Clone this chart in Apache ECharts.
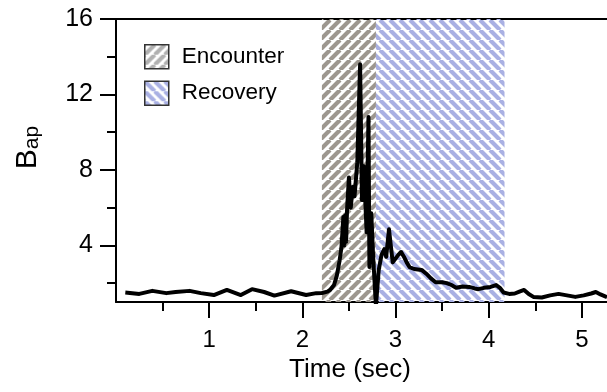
<!DOCTYPE html>
<html>
<head>
<meta charset="utf-8">
<script src="https://cdn.jsdelivr.net/npm/echarts@6/dist/echarts.min.js"></script>
<style>
html,body{margin:0;padding:0;background:#fff;}
#chart{width:607px;height:392px;}
</style>
</head>
<body>
<div id="chart"></div>
<script>
// ---- data ----
const timeSec = [0.10,0.25,0.39,0.54,0.64,0.79,0.91,1.05,1.19,1.34,1.46,1.59,1.70,1.88,2.04,2.15,2.21,2.27,2.30,2.34,2.37,2.40,2.42,2.44,2.45,2.46,2.47,2.48,2.50,2.52,2.54,2.56,2.59,2.62,2.64,2.66,2.69,2.71,2.72,2.74,2.76,2.79,2.82,2.85,2.88,2.90,2.93,2.97,2.99,3.03,3.06,3.09,3.12,3.15,3.20,3.28,3.33,3.38,3.43,3.50,3.55,3.60,3.65,3.72,3.79,3.85,3.89,3.95,4.02,4.08,4.12,4.16,4.22,4.28,4.33,4.38,4.43,4.48,4.57,4.66,4.75,4.84,4.93,5.02,5.10,5.15,5.20,5.27];
const bapValues = [1.50,1.43,1.59,1.47,1.53,1.59,1.47,1.37,1.64,1.37,1.68,1.53,1.34,1.57,1.37,1.47,1.48,1.55,1.65,1.90,2.40,3.20,3.90,5.50,4.00,5.60,4.20,5.90,7.60,6.00,7.10,6.60,8.40,13.6,6.40,8.20,4.70,10.8,2.86,5.70,3.40,0.80,2.70,3.50,3.80,3.40,4.85,3.10,3.00,3.50,3.65,3.40,3.10,2.85,2.75,2.70,2.50,2.25,2.05,2.05,2.00,1.90,1.76,1.82,1.80,1.72,1.68,1.75,1.80,1.90,1.75,1.50,1.43,1.45,1.55,1.64,1.42,1.27,1.24,1.35,1.43,1.35,1.27,1.35,1.45,1.53,1.40,1.25];
const encounterRange = [2.21, 2.79];
const recoveryRange = [2.79, 4.17];
const regionNames = ['Encounter', 'Recovery'];
const xMajorTicks = [1, 2, 3, 4, 5];
const xMinorTicks = [0.5, 1.5, 2.5, 3.5, 4.5];
const yMajorTicks = [4, 8, 12, 16];
const yMinorTicks = [2, 6, 10, 14];
const xRange = [0, 5.27];
const yRange = [1, 16];

// ---- hatch patterns ----
function stripes(color, dir, P, w) {
  const c = document.createElement('canvas');
  c.width = P; c.height = P;
  const ctx = c.getContext('2d');
  ctx.strokeStyle = color;
  ctx.lineWidth = w;
  ctx.beginPath();
  for (const k of [-P, 0, P]) {
    if (dir === '/') { ctx.moveTo(k, P); ctx.lineTo(k + P, 0); }
    else { ctx.moveTo(k, 0); ctx.lineTo(k + P, P); }
  }
  ctx.stroke();
  return { image: c, repeat: 'repeat' };
}
const grayHatch = stripes('#9d978f', '/', 10, 4.2);
const blueHatch = stripes('#a9b0e3', '\\', 10, 4.2);
const grayHatchKey = stripes('#b0b0b0', '/', 10, 4.2);
const blueHatchKey = stripes('#a9b0e3', '\\', 10, 4.2);

const FONT = 'Liberation Sans';
const lineData = timeSec.map((t, i) => [t, bapValues[i]]);

const chart = echarts.init(document.getElementById('chart'), null, { renderer: 'canvas' });
chart.setOption({
  animation: false,
  backgroundColor: '#fff',
  textStyle: { fontFamily: FONT, color: '#000' },
  grid: { left: 116, right: 0, top: 19, bottom: 90, containLabel: false },
  legend: {
    orient: 'vertical', left: 144, top: 44, padding: 0,
    itemWidth: 24, itemHeight: 24, itemGap: 11,
    selectedMode: false,
    textStyle: { fontSize: 22.5, color: '#000', fontFamily: FONT, padding: [0, 0, 0, 8] },
    data: [
      { name: regionNames[0], icon: 'rect', itemStyle: { color: grayHatchKey, borderColor: '#333', borderWidth: 1.5 } },
      { name: regionNames[1], icon: 'rect', itemStyle: { color: blueHatchKey, borderColor: '#333', borderWidth: 1.5 } }
    ]
  },
  xAxis: [
    {
      type: 'value', min: xRange[0], max: xRange[1], position: 'bottom',
      name: 'Time (sec)', nameLocation: 'middle', nameGap: 55,
      nameTextStyle: { fontSize: 26, color: '#000', fontFamily: FONT, padding: [0, 23, 0, 0] },
      axisLine: { show: true, onZero: false, lineStyle: { color: '#000', width: 2 } },
      axisTick: { show: true, customValues: xMajorTicks, length: 16, lineStyle: { color: '#000', width: 2 } },
      axisLabel: { show: true, customValues: xMajorTicks, fontSize: 24, margin: 26, color: '#000', fontFamily: FONT },
      splitLine: { show: false }
    },
    {
      type: 'value', min: xRange[0], max: xRange[1], position: 'bottom',
      axisLine: { show: false, onZero: false },
      axisTick: { show: true, customValues: xMinorTicks, length: 9, lineStyle: { color: '#000', width: 2 } },
      axisLabel: { show: false },
      splitLine: { show: false }
    },
    {
      type: 'value', min: xRange[0], max: xRange[1], position: 'top',
      axisLine: { show: true, onZero: false, lineStyle: { color: '#000', width: 2 } },
      axisTick: { show: false }, axisLabel: { show: false }, splitLine: { show: false }
    }
  ],
  yAxis: [
    {
      type: 'value', min: yRange[0], max: yRange[1], position: 'left',
      name: '{b|B}{s|ap}', nameLocation: 'middle', nameGap: 73, nameRotate: 90,
      nameTextStyle: {
        padding: [0, 0, 0, 26],
        rich: {
          b: { fontSize: 30, lineHeight: 30, verticalAlign: 'bottom', fontFamily: FONT, color: '#000' },
          s: { fontSize: 21, lineHeight: 21, verticalAlign: 'bottom', fontFamily: FONT, color: '#000' }
        }
      },
      axisLine: { show: true, onZero: false, lineStyle: { color: '#000', width: 2 } },
      axisTick: { show: true, customValues: yMajorTicks, length: 16, lineStyle: { color: '#000', width: 2 } },
      axisLabel: { show: true, customValues: yMajorTicks, fontSize: 25, margin: 23, color: '#000', fontFamily: FONT },
      splitLine: { show: false }
    },
    {
      type: 'value', min: yRange[0], max: yRange[1], position: 'left',
      axisLine: { show: false, onZero: false },
      axisTick: { show: true, customValues: yMinorTicks, length: 9, lineStyle: { color: '#000', width: 2 } },
      axisLabel: { show: false },
      splitLine: { show: false }
    }
  ],
  series: [
    {
      name: regionNames[0], type: 'line', data: [], xAxisIndex: 0, yAxisIndex: 0,
      itemStyle: { color: grayHatch },
      markArea: { silent: true, itemStyle: { color: grayHatch }, data: [[{ xAxis: encounterRange[0] }, { xAxis: encounterRange[1] }]] }
    },
    {
      name: regionNames[1], type: 'line', data: [], xAxisIndex: 0, yAxisIndex: 0,
      itemStyle: { color: blueHatch },
      markArea: { silent: true, itemStyle: { color: blueHatch }, data: [[{ xAxis: recoveryRange[0] }, { xAxis: recoveryRange[1] }]] }
    },
    {
      name: 'Bap', type: 'line', data: lineData, xAxisIndex: 0, yAxisIndex: 0,
      showSymbol: false, symbol: 'none', z: 10, clip: true,
      lineStyle: { color: '#000', width: 4, join: 'round' }
    }
  ]
});
</script>
</body>
</html>
